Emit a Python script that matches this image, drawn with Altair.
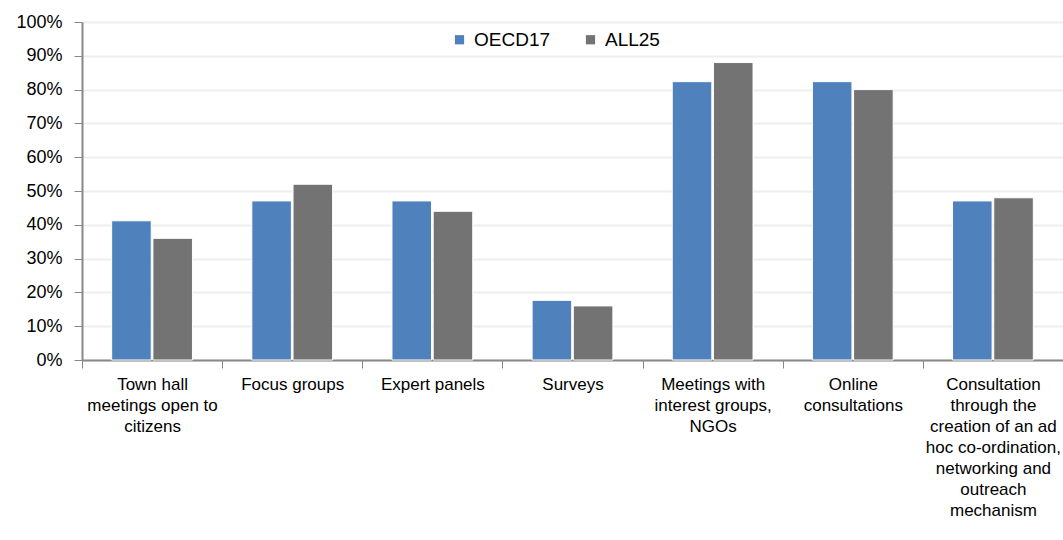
import altair as alt
import pandas as pd

categories = [
    "Town hall|meetings open to|citizens",
    "Focus groups",
    "Expert panels",
    "Surveys",
    "Meetings with|interest groups,|NGOs",
    "Online|consultations",
    "Consultation|through the|creation of an ad|hoc co-ordination,|networking and|outreach|mechanism",
]
series = ["OECD17", "ALL25"]
oecd17 = [41.18, 47.06, 47.06, 17.65, 82.35, 82.35, 47.06]
all25 = [36.0, 52.0, 44.0, 16.0, 88.0, 80.0, 48.0]
colors = ["#4F81BD", "#737373"]

rows = []
for c, a, b in zip(categories, oecd17, all25):
    rows.append({"cat": c, "series": "OECD17", "value": a / 100})
    rows.append({"cat": c, "series": "ALL25", "value": b / 100})
df = pd.DataFrame(rows)

font = "Liberation Sans"

chart = alt.Chart(df).mark_bar(stroke="white", strokeWidth=1).encode(
    x=alt.X(
        "cat:N",
        sort=categories,
        title=None,
        scale=alt.Scale(paddingInner=0, paddingOuter=0),
        axis=alt.Axis(
            labelExpr="split(datum.label, '|')",
            labelAngle=0,
            labelFont=font,
            labelFontSize=17,
            labelColor="#000000",
            labelLineHeight=21,
            labelPadding=8,
            labelLimit=200,
            tickBand="extent",
            tickSize=8,
            tickColor="#888888",
            domainColor="#888888",
            domainWidth=2,
            grid=False,
        ),
    ),
    xOffset=alt.XOffset(
        "series:N",
        sort=series,
        scale=alt.Scale(paddingInner=0.04, paddingOuter=0.72),
    ),
    y=alt.Y(
        "value:Q",
        title=None,
        scale=alt.Scale(domain=[0, 1]),
        axis=alt.Axis(
            format=".0%",
            values=[i / 10 for i in range(11)],
            labelFont=font,
            labelFontSize=18,
            labelColor="#000000",
            labelPadding=12,
            tickSize=8,
            tickColor="#888888",
            domainColor="#888888",
            domainWidth=2,
            gridColor="#EEEEEE",
            gridWidth=2,
        ),
    ),
    color=alt.Color(
        "series:N",
        sort=series,
        scale=alt.Scale(domain=series, range=colors),
        legend=alt.Legend(
            title=None,
            orient="none",
            direction="horizontal",
            legendX=368,
            legendY=8,
            symbolType="square",
            symbolSize=85,
            symbolStrokeWidth=0,
            labelFont=font,
            labelFontSize=19,
            labelColor="#000000",
            labelOffset=5,
            columnPadding=30,
        ),
    ),
).properties(
    width=981,
    height=338,
    autosize=alt.AutoSizeParams(type="none"),
    padding={"left": 82, "top": 22, "right": 0, "bottom": 180},
).configure_view(stroke=None)

chart.save("out.html", embed_options={"renderer": "svg", "actions": False})
